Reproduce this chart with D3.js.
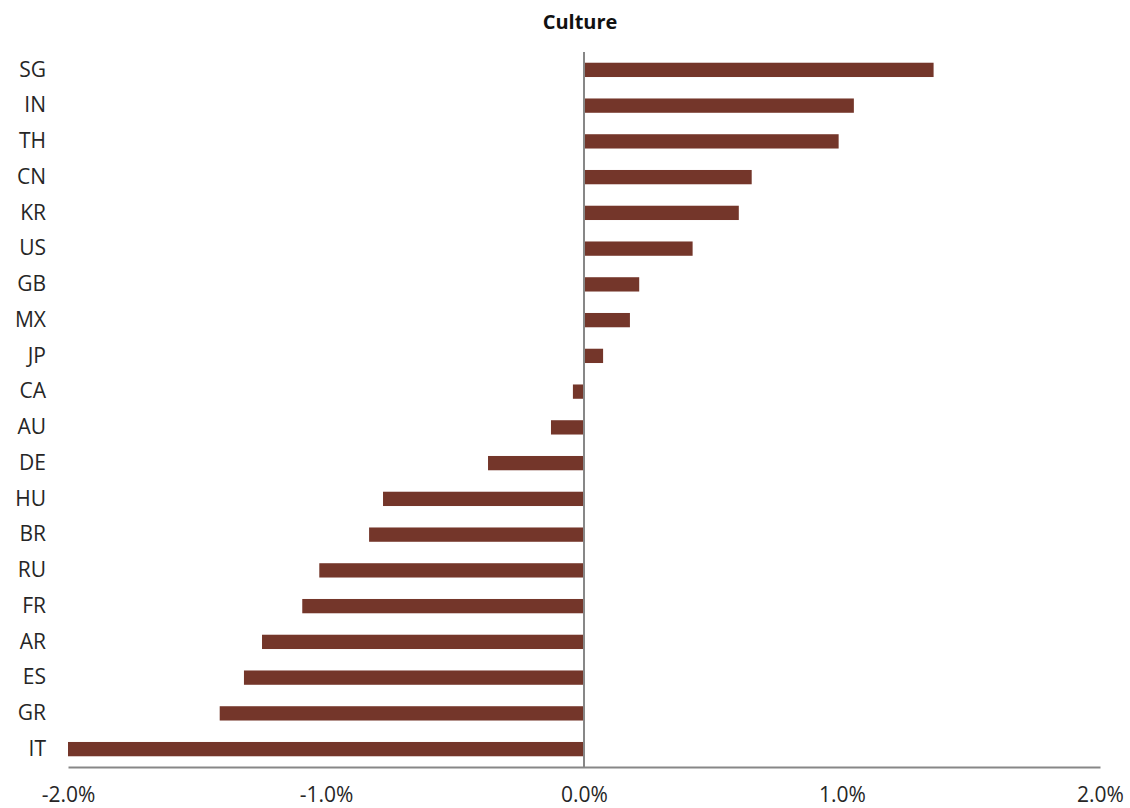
<!DOCTYPE html>
<html>
<head>
<meta charset="utf-8">
<script src="https://cdn.jsdelivr.net/npm/d3@7/dist/d3.min.js"></script>
<style>
  html, body { margin: 0; padding: 0; background: #ffffff; }
  svg { display: block; }
</style>
</head>
<body>
<svg id="chart" width="1130" height="808"></svg>
<script>
const title = "Culture";
const categories = ["SG","IN","TH","CN","KR","US","GB","MX","JP","CA","AU","DE","HU","BR","RU","FR","AR","ES","GR","IT"];
const values = [1.355, 1.046, 0.987, 0.650, 0.600, 0.421, 0.214, 0.178, 0.074, -0.043, -0.128, -0.372, -0.779, -0.833, -1.026, -1.092, -1.248, -1.318, -1.412, -2.0];
const xTicks = [-2, -1, 0, 1, 2];

(function draw() {
  const svg = d3.select("#chart");
  const fontFamily = "'Open Sans', 'Noto Sans', sans-serif";
  const plotLeft = 68, plotRight = 1100, plotTop = 52, plotBottom = 767;

  const x = d3.scaleLinear().domain([-2, 2]).range([plotLeft, plotRight]);
  const y = d3.scaleBand().domain(categories).range([plotTop, plotBottom]).paddingInner(0.6).paddingOuter(0.3);

  // title
  svg.append("text")
    .attr("x", 580).attr("y", 29)
    .attr("text-anchor", "middle")
    .attr("font-family", fontFamily)
    .attr("font-weight", "bold")
    .attr("font-size", 20)
    .attr("fill", "#111")
    .text(title);

  // bars
  svg.append("g").selectAll("rect")
    .data(values)
    .join("rect")
    .attr("x", d => Math.min(x(0), x(d)))
    .attr("width", d => Math.abs(x(d) - x(0)))
    .attr("y", (d, i) => y(categories[i]))
    .attr("height", y.bandwidth())
    .attr("fill", "#74362A");

  // x axis
  const xAxis = d3.axisBottom(x)
    .tickValues(xTicks)
    .tickSize(0)
    .tickPadding(20)
    .tickFormat(d => d3.format(".1f")(d).replace("\u2212", "-") + "%");

  const gx = svg.append("g")
    .attr("transform", `translate(0,${plotBottom})`)
    .call(xAxis);
  gx.select(".domain").attr("stroke", "#878787").attr("stroke-width", 2);
  gx.selectAll("text")
    .attr("font-family", fontFamily)
    .attr("font-size", 21)
    .attr("fill", "#262626");

  // category labels
  const yAxis = d3.axisLeft(y).tickSize(0).tickPadding(0);
  const gy = svg.append("g")
    .attr("transform", `translate(${plotLeft - 22},0)`)
    .call(yAxis);
  gy.select(".domain").remove();
  gy.selectAll("text")
    .attr("font-family", fontFamily)
    .attr("font-size", 21)
    .attr("fill", "#262626");

  // zero line
  svg.append("line")
    .attr("x1", x(0)).attr("x2", x(0))
    .attr("y1", plotTop).attr("y2", plotBottom)
    .attr("stroke", "#878787")
    .attr("stroke-width", 2);
})();
</script>
</body>
</html>
